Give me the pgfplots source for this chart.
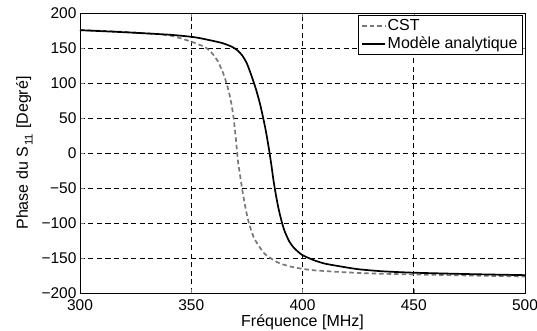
\documentclass[border=0pt]{standalone}
\usepackage{pgfplots}
\pgfplotsset{compat=1.18}
\usepackage{fontspec}
\setmainfont{Liberation Sans}
\definecolor{cstgray}{RGB}{120,120,120}
\begin{document}
\fontsize{16}{18}\selectfont
\begin{tikzpicture}
\begin{axis}[
  scale only axis,
  width=445pt, height=280pt,
  xmin=300, xmax=500, ymin=-200, ymax=200,
  xtick={300,350,...,500},
  ytick={-200,-150,...,200},
  yticklabels={−200,−150,−100,−50,0,50,100,150,200},
  /pgf/number format/assume math mode=true,
  tick label style={font=\fontsize{15.5}{17}\selectfont},
  label style={font=\fontsize{16}{18}\selectfont},
  grid=major,
  major grid style={black, dash pattern=on 5pt off 3.5pt, line width=0.6pt},
  tick align=inside,
  major tick length=4pt,
  axis line style={black, line width=0.9pt},
  xlabel={Fréquence [MHz]},
  ylabel={Phase du S\hspace{1.5pt}\raisebox{-2pt}{\textsubscript{11}} [Degré]},
  xlabel style={at={(axis description cs:0.5,0)}, anchor=base, yshift=-33pt},
  ylabel style={at={(axis description cs:-0.1169,0.5)}, anchor=base},
  xticklabel style={yshift=-1pt},
  yticklabel style={xshift=2pt},
  legend style={at={(axis description cs:1,1)}, xshift=-2.5pt, yshift=-2pt, anchor=north east,
    draw=black, line width=0.9pt, inner xsep=3pt, inner ysep=2pt,
    nodes={inner sep=1.5pt},
    font=\fontsize{16}{18}\selectfont, row sep=1pt, cells={anchor=west}},
  legend image post style={line width=1.8pt},
  legend image code/.code={\draw[#1, line width=1.8pt] (0pt,0pt) -- (23pt,0pt);},
]
\coordinate (sw) at (rel axis cs:0,0);
\coordinate (ne) at (rel axis cs:1,1);
\addplot[cstgray, line width=1.7pt, dash pattern=on 4.5pt off 3pt, smooth, tension=0.4] coordinates {
(300,175.5) (320,173) (340,168) (350,159) (353,155.5) (356,151.5) (358,147) (360,140) (362,131) (363,124) (364,117) (365,108) (366,98) (367,86) (368,71) (369,51) (370,22) (370.5,5) (371,-12) (372,-33) (373,-54) (374,-72) (375,-88) (376,-101) (377,-111) (378,-120) (380,-131) (383,-144) (387,-153) (390,-158) (395,-162.5) (399,-165) (405,-167.5) (417,-170) (430,-172) (450,-173.5) (475,-175) (500,-176.5)
};
\addlegendentry{CST}
\addplot[black, line width=1.7pt, smooth, tension=0.4] coordinates {
(300,175.5) (320,172.5) (340,169) (350,166) (354,164) (360,160) (364,157) (367,153.5) (369,150.5) (371,146) (373,139) (375,128) (377,111) (379,92) (381,69) (383,40) (384,23) (385,4) (386,-17) (387,-40) (388,-59) (389,-76) (390,-90) (391,-102) (392,-112) (394,-126) (396,-135) (398,-141) (400,-146) (405,-153) (410,-158) (417,-162) (425,-166) (436,-169) (450,-171) (475,-173) (500,-174.5)
};
\addlegendentry{Modèle analytique}
\end{axis}
\pgfresetboundingbox
\path ([xshift=-80pt,yshift=-38pt]sw) rectangle ([xshift=12pt,yshift=13pt]ne);
\end{tikzpicture}
\end{document}
